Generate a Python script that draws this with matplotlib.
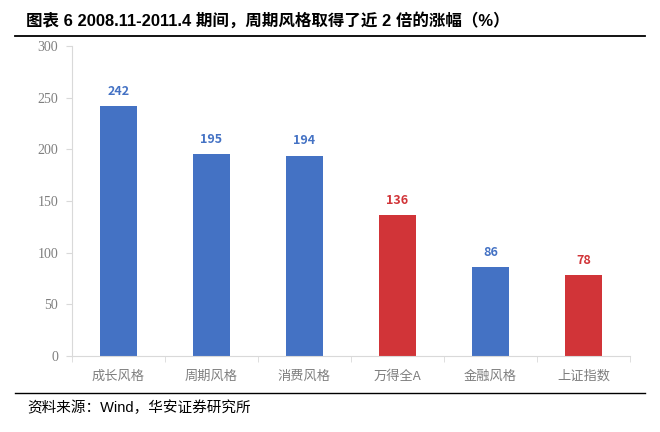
import matplotlib
matplotlib.use("Agg")
import matplotlib.pyplot as plt
from matplotlib.lines import Line2D

categories = ["成长风格", "周期风格", "消费风格", "万得全A", "金融风格", "上证指数"]
values = [242, 195, 194, 136, 86, 78]
is_red = [False, False, False, True, False, True]
yticks = [0, 50, 100, 150, 200, 250, 300]

BLUE = "#4472C4"
RED = "#D13438"
CJK = ["Noto Sans CJK SC", "DejaVu Sans"]
MIX = ["Liberation Sans", "Noto Sans CJK SC", "DejaVu Sans"]

fig = plt.figure(figsize=(6.6, 4.32), dpi=100)
ax = fig.add_axes([72/660, 1-356/432, (630-72)/660, (356-46)/432])

colors = [RED if r else BLUE for r in is_red]
x = list(range(len(categories)))
bars = ax.bar(x, values, width=0.4, color=colors)
for xi, v, c in zip(x, values, colors):
    ax.text(xi, v + 8, str(v), ha="center", va="bottom", color=c,
            fontsize=9, fontweight="bold", family=CJK)

ax.set_xlim(-0.5, len(categories) - 0.5)
ax.set_ylim(0, 300)
ax.set_yticks(yticks)
ax.set_yticklabels([str(t) for t in yticks], family="Liberation Serif",
                   fontsize=10, color="#7f7f7f")
ax.set_xticks(x)
ax.set_xticklabels(categories, family=CJK, fontsize=9.5, color="#7f7f7f")
ax.tick_params(axis="x", length=0, pad=10)
ax.tick_params(axis="y", length=4, color="#d9d9d9", pad=6)
for s in ["top", "right"]:
    ax.spines[s].set_visible(False)
for s in ["left", "bottom"]:
    ax.spines[s].set_color("#d9d9d9")
ax.set_xticks([i - 0.5 for i in range(len(categories) + 1)], minor=True)
ax.tick_params(axis="x", which="minor", length=4, color="#d9d9d9")

fig.text(26/660, 1-20/432, "图表 6 2008.11-2011.4 期间，周期风格取得了近 2 倍的涨幅（%）",
         family=MIX, fontsize=11.9, fontweight="bold", va="center", ha="left")
fig.add_artist(Line2D([15/660, 645/660], [1-36/432, 1-36/432], color="black", lw=1.3))
fig.add_artist(Line2D([15/660, 645/660], [1-393/432, 1-393/432], color="black", lw=1.0))
fig.text(27/660, 1-408/432, "资料来源：Wind，华安证券研究所", family=MIX, fontsize=10.5,
         va="center", ha="left")

fig.savefig("out.png", dpi=100)
